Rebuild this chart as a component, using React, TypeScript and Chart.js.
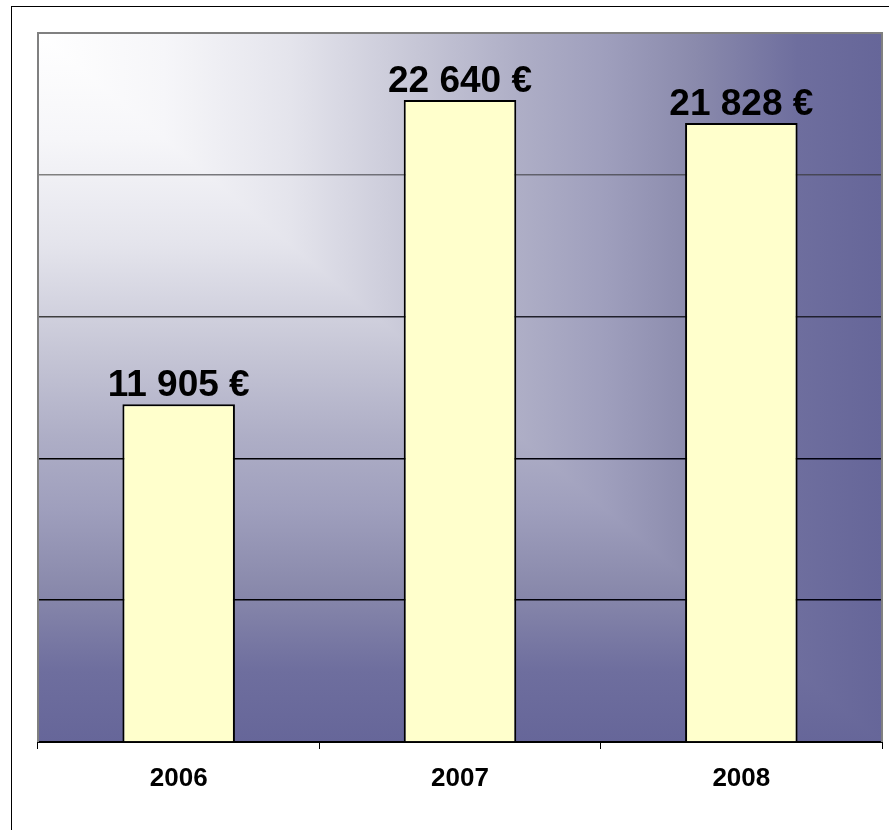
import React, { useEffect, useRef } from "react";
import { Chart, registerables } from "chart.js";

Chart.register(...registerables);

const categories: string[] = ["2006", "2007", "2008"];
const values: number[] = [11905, 22640, 21828];
const yTickValues: number[] = [0, 5000, 10000, 15000, 20000, 25000];
const yMax = 25000;

const FONT = '"Liberation Sans", Arial, sans-serif';

const bgStops: [number, string][] = [
  [0, "#ffffff"],
  [0.15, "#f6f6f9"],
  [0.3, "#e4e4ec"],
  [0.45, "#c6c6d6"],
  [0.57, "#aeaec6"],
  [0.67, "#9f9fbd"],
  [0.78, "#8a8aac"],
  [0.9, "#6e6e9e"],
  [1, "#666699"],
];

function fmt(v: number): string {
  return v.toString().replace(/\B(?=(\d{3})+(?!\d))/g, " ") + " €";
}

const backgroundPlugin = {
  id: "cornerGradient",
  beforeDraw(chart: any) {
    const { ctx, chartArea } = chart;
    if (!chartArea) return;
    const { left, top, right, bottom } = chartArea;
    const gh = ctx.createLinearGradient(left, 0, right, 0);
    const gv = ctx.createLinearGradient(0, top, 0, bottom);
    bgStops.forEach(([t, c]) => {
      gh.addColorStop(t, c);
      gv.addColorStop(t, c);
    });
    ctx.save();
    ctx.fillStyle = gh;
    ctx.fillRect(left, top, right - left, bottom - top);
    ctx.beginPath();
    ctx.moveTo(left, top);
    ctx.lineTo(left, bottom);
    ctx.lineTo(right, bottom);
    ctx.closePath();
    ctx.fillStyle = gv;
    ctx.fill();
    ctx.restore();
  },
  beforeDatasetsDraw(chart: any) {
    const { ctx, chartArea } = chart;
    const { left, top, right, bottom } = chartArea;
    ctx.save();
    ctx.strokeStyle = "#808080";
    ctx.lineWidth = 2;
    ctx.beginPath();
    ctx.moveTo(left, bottom);
    ctx.lineTo(left, top);
    ctx.lineTo(right, top);
    ctx.lineTo(right, bottom);
    ctx.stroke();
    ctx.restore();
  },
};

const valueLabelPlugin = {
  id: "valueLabels",
  afterDatasetsDraw(chart: any) {
    const { ctx } = chart;
    const meta = chart.getDatasetMeta(0);
    ctx.save();
    ctx.font = `bold 37px ${FONT}`;
    ctx.fillStyle = "#000000";
    ctx.textAlign = "center";
    ctx.textBaseline = "alphabetic";
    meta.data.forEach((bar: any, i: number) => {
      ctx.fillText(fmt(values[i]), bar.x, bar.y - 8);
    });
    ctx.restore();
  },
};

function gridColor(c: any) {
  const chart = c.chart;
  const area = chart.chartArea;
  const v = c.tick ? c.tick.value : 0;
  if (!area) return "#000000";
  const g = chart.ctx.createLinearGradient(area.left, 0, area.right, 0);
  if (v >= 20000) {
    g.addColorStop(0, "#808080");
    g.addColorStop(0.4, "#707078");
    g.addColorStop(1, "#404050");
  } else if (v >= 15000) {
    g.addColorStop(0, "#404040");
    g.addColorStop(0.4, "#202028");
    g.addColorStop(1, "#202030");
  } else {
    g.addColorStop(0, "#000000");
    g.addColorStop(1, "#000010");
  }
  return g;
}

export default function App() {
  const canvasRef = useRef<HTMLCanvasElement | null>(null);

  useEffect(() => {
    if (!canvasRef.current) return;
    const chart = new Chart(canvasRef.current, {
      type: "bar",
      data: {
        labels: categories,
        datasets: [
          {
            data: values,
            backgroundColor: "#FFFFCC",
            borderColor: "#000000",
            borderWidth: 2,
            borderSkipped: "bottom",
            categoryPercentage: 1,
            barPercentage: 0.4,
          },
        ],
      },
      options: {
        animation: false,
        responsive: false,
        maintainAspectRatio: false,
        devicePixelRatio: 1,
        layout: { padding: { left: 38, top: 33, right: 7, bottom: 0 } },
        plugins: {
          legend: { display: false },
          tooltip: { enabled: false },
          title: { display: false },
        },
        scales: {
          x: {
            grid: {
              display: true,
              drawOnChartArea: false,
              drawTicks: true,
              tickLength: 7,
              color: "#000000",
              lineWidth: 1,
              offset: true,
            },
            border: { display: true, color: "#000000", width: 2 },
            ticks: {
              color: "#000000",
              padding: 14,
              font: { family: FONT, size: 26, weight: "bold" },
            },
            afterFit: (s: any) => {
              s.height = 88;
            },
          },
          y: {
            min: 0,
            max: yMax,
            afterBuildTicks: (s: any) => {
              s.ticks = yTickValues.map((v) => ({ value: v }));
            },
            ticks: { display: false },
            grid: {
              color: gridColor as any,
              lineWidth: 1.5,
              drawTicks: false,
            },
            border: { display: false },
            afterFit: (s: any) => {
              s.width = 0;
            },
          },
        },
      },
      plugins: [backgroundPlugin, valueLabelPlugin],
    });
    return () => chart.destroy();
  }, []);

  return (
    <div
      style={{
        position: "absolute",
        left: 0,
        top: 0,
        width: 889,
        height: 830,
        overflow: "hidden",
        background: "#ffffff",
      }}
    >
      <div
        style={{
          position: "absolute",
          left: 11,
          top: 6,
          width: 900,
          height: 900,
          border: "1px solid #000000",
          boxSizing: "border-box",
        }}
      />
      <canvas
        ref={canvasRef}
        width={889}
        height={830}
        style={{ position: "absolute", left: 0, top: 0, width: 889, height: 830 }}
      />
    </div>
  );
}
